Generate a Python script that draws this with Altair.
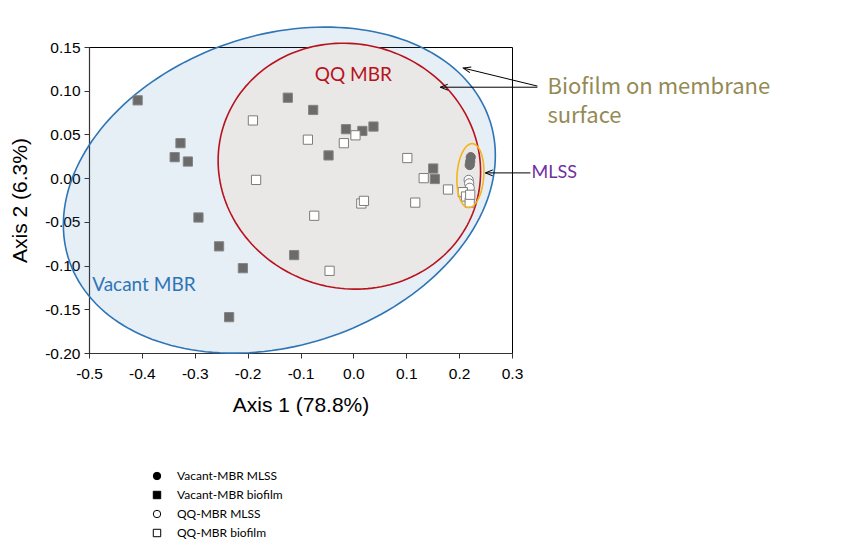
import altair as alt
import numpy as np
import pandas as pd

# ---------------- data ----------------
groups = ["Vacant-MBR MLSS", "Vacant-MBR biofilm", "QQ-MBR MLSS", "QQ-MBR biofilm"]

vac_mlss_x = [0.222, 0.221, 0.220]
vac_mlss_y = [0.024, 0.019, 0.015]

vac_bio_x = [-0.408, -0.327, -0.338, -0.313, -0.293, -0.254, -0.209, -0.235, -0.112,
             -0.124, -0.076, -0.014, 0.017, 0.038, -0.047, 0.151, 0.154]
vac_bio_y = [0.089, 0.040, 0.024, 0.019, -0.045, -0.078, -0.103, -0.159, -0.088,
             0.092, 0.078, 0.056, 0.054, 0.059, 0.026, 0.011, -0.001]

qq_mlss_x = [0.218, 0.219, 0.220]
qq_mlss_y = [-0.002, -0.006, -0.011]

qq_bio_x = [-0.190, -0.184, -0.086, -0.018, 0.004, 0.102, 0.133, 0.179, 0.117, 0.015,
            0.020, -0.074, -0.045, 0.207, 0.213, 0.220, 0.221]
qq_bio_y = [0.066, -0.002, 0.044, 0.040, 0.049, 0.023, 0.000, -0.013, -0.028, -0.029,
            -0.026, -0.043, -0.106, -0.016, -0.021, -0.028, -0.019]

# ellipse parameters: centre x, centre y, x half-extent, y coupling, y half-axis
ell_names = ["Vacant MBR", "QQ MBR", "MLSS"]
ell_cx = [-0.140, -0.0076, 0.2213]
ell_cy = [-0.0137, 0.0137, 0.0029]
ell_X = [0.4085, 0.2482, 0.02553]
ell_k = [0.0397, -0.0064, 0.00458]
ell_m = [0.1822, 0.1405, 0.0363]

# ---------------- tables ----------------
rows = []
for g, xs, ys in zip(groups, [vac_mlss_x, vac_bio_x, qq_mlss_x, qq_bio_x],
                     [vac_mlss_y, vac_bio_y, qq_mlss_y, qq_bio_y]):
    rows += [{"x": a, "y": b, "group": g} for a, b in zip(xs, ys)]
pts = pd.DataFrame(rows)


def ellipse(i, n=181):
    t = np.linspace(0, 2 * np.pi, n)
    return pd.DataFrame({
        "x": ell_cx[i] + ell_X[i] * np.cos(t),
        "y": ell_cy[i] + ell_k[i] * np.cos(t) + ell_m[i] * np.sin(t),
        "i": np.arange(n),
    })


def fmt(spec):
    return "replace(format(datum.value, '" + spec + "'), '\u2212', '-')"


xs_ = alt.Scale(domain=[-0.5, 0.3], nice=False, zero=False)
ys_ = alt.Scale(domain=[-0.2, 0.15], nice=False, zero=False)
x_enc = alt.X("x:Q", scale=xs_,
              axis=alt.Axis(values=[-0.5, -0.4, -0.3, -0.2, -0.1, 0.0, 0.1, 0.2, 0.3],
                            labelExpr=fmt(".1f"), title="Axis 1 (78.8%)", grid=False,
                            labelFlush=False, tickSize=5, labelPadding=8, titlePadding=13))
y_enc = alt.Y("y:Q", scale=ys_,
              axis=alt.Axis(values=[-0.2, -0.15, -0.1, -0.05, 0.0, 0.05, 0.1, 0.15],
                            labelExpr=fmt(".2f"), title="Axis 2 (6.3%)", grid=False,
                            labelFlush=False, tickSize=5, labelPadding=4, titlePadding=14))

blue = alt.Chart(ellipse(0)).mark_line(
    fill="#2e75b6", fillOpacity=0.12, stroke="#2e75b6", strokeWidth=1.6
).encode(x=x_enc, y=y_enc, order="i:Q")

red = alt.Chart(ellipse(1)).mark_line(
    fill="#eae8e7", fillOpacity=1, stroke="#b8121d", strokeWidth=1.6
).encode(x=x_enc, y=y_enc, order="i:Q")

orange = alt.Chart(ellipse(2)).mark_line(
    stroke="#f5b41c", strokeWidth=1.6
).encode(x=x_enc, y=y_enc, order="i:Q")

shape_scale = alt.Scale(domain=groups, range=["circle", "square", "circle", "square"])

points = alt.Chart(pts).mark_point(filled=True, size=85, strokeWidth=1, opacity=1).encode(
    x=x_enc, y=y_enc,
    shape=alt.Shape("group:N", scale=shape_scale, legend=None),
    fill=alt.Fill("group:N", scale=alt.Scale(domain=groups,
                  range=["#6e6e6e", "#6b6b6b", "#ffffff", "#ffffff"]), legend=None),
    fillOpacity=alt.FillOpacity("group:N", scale=alt.Scale(domain=groups,
                                range=[1, 1, 0.35, 0.35]), legend=None),
    stroke=alt.Stroke("group:N", scale=alt.Scale(domain=groups,
                      range=["#6e6e6e", "#858585", "#7c7c7c", "#7c7c7c"]), legend=None),
)

# legend-only layer (points placed outside the domain and clipped away)
leg_df = pd.DataFrame({"x": [1.0] * 4, "y": [0.0] * 4, "group": groups})
leg_props = dict(title=None, orient="none", legendX=62, legendY=423,
                 labelFont="Lato", labelFontSize=12, labelColor="black",
                 symbolSize=55, rowPadding=7, labelOffset=14, padding=0,
                 symbolStrokeWidth=1, symbolOpacity=1)
legend_layer = alt.Chart(leg_df).mark_point(filled=True, clip=True, opacity=1).encode(
    x=x_enc, y=y_enc,
    shape=alt.Shape("group:N", scale=shape_scale, legend=alt.Legend(**leg_props)),
    fill=alt.Fill("group:N", scale=alt.Scale(domain=groups,
                  range=["black", "black", "white", "white"]), legend=alt.Legend(**leg_props)),
    stroke=alt.Stroke("group:N", scale=alt.Scale(domain=groups,
                      range=["black", "black", "black", "black"]), legend=alt.Legend(**leg_props)),
)

# annotations
lab_df = pd.DataFrame({
    "x": [0.0, -0.494, 0.337],
    "y": [0.118, -0.122, 0.006],
    "text": ["QQ MBR", "Vacant MBR", "MLSS"],
})
qq_text = alt.Chart(lab_df.iloc[[0]]).mark_text(
    font="Lato", fontSize=19, align="center", baseline="middle", color="#b8121d"
).encode(x=x_enc, y=y_enc, text="text:N")
vac_text = alt.Chart(lab_df.iloc[[1]]).mark_text(
    font="Lato", fontSize=19, align="left", baseline="middle", color="#2e75b6"
).encode(x=x_enc, y=y_enc, text="text:N")
mlss_text = alt.Chart(lab_df.iloc[[2]]).mark_text(
    font="Lato", fontSize=18, align="left", baseline="middle", color="#7030a0"
).encode(x=x_enc, y=y_enc, text="text:N")

bio_df = pd.DataFrame({"x": [0.367, 0.367], "y": [0.1041, 0.0709],
                       "text": ["Biofilm on membrane", "surface"]})
bio_text = alt.Chart(bio_df).mark_text(
    font="Noto Sans CJK KR", fontSize=22, align="left", baseline="middle", color="#948a54"
).encode(x=x_enc, y=y_enc, text="text:N")

arr_x = [0.348, 0.348, 0.3348]
arr_y = [0.1053, 0.104, 0.006]
tip_x = [0.208, 0.1645, 0.2496]
tip_y = [0.1259, 0.104, 0.006]
tip_ang = [13.7, 0.0, 0.0]

arr_df = pd.DataFrame({"x": arr_x, "y": arr_y, "x2": tip_x, "y2": tip_y})
head_df = pd.DataFrame({"x": tip_x, "y": tip_y, "ang": tip_ang})
arr_lines = alt.Chart(arr_df).mark_rule(color="black", strokeWidth=1).encode(
    x=x_enc, y=y_enc, x2="x2:Q", y2="y2:Q")
arr_heads = alt.Chart(head_df).mark_point(
    shape="M 2 -0.8 L 0 0 L 2 0.8", filled=False, size=55, color="black",
    strokeWidth=1, opacity=1
).encode(x=x_enc, y=y_enc, angle=alt.Angle("ang:Q", scale=None))

chart = alt.layer(
    blue, red, points, orange, legend_layer, qq_text, vac_text, mlss_text, bio_text,
    arr_lines, arr_heads
).resolve_scale(
    shape="independent", fill="independent", stroke="independent"
).properties(
    width=423, height=306,
    autosize=alt.AutoSizeParams(type="none"),
    padding={"left": 81, "top": 39, "right": 335, "bottom": 190},
).configure_view(
    stroke="black", strokeWidth=1
).configure_axis(
    labelFont="Liberation Sans", labelFontSize=15.5, labelColor="black",
    titleFont="Liberation Sans", titleFontSize=21, titleFontWeight="normal", titleColor="black",
    domainColor="#333333", tickColor="#333333", domainWidth=1.2
)

chart.save("out.html", embed_options={"renderer": "svg", "actions": False})
